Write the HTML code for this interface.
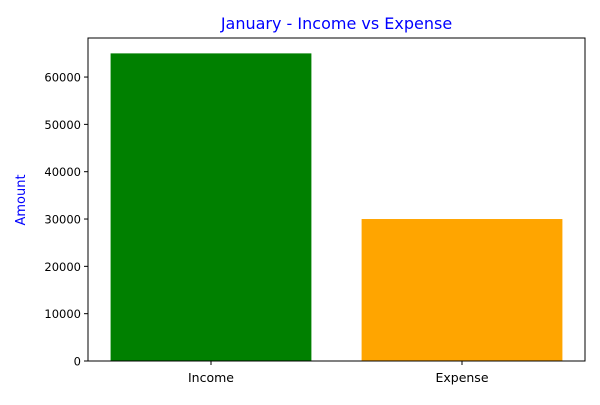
<!DOCTYPE html>
<html><head><meta charset="utf-8"><style>
body{margin:0;background:#fff;}
svg text{font-family:"DejaVu Sans","Liberation Sans",sans-serif;}
</style></head><body>
<svg id="chart" width="600" height="400" xmlns="http://www.w3.org/2000/svg">
<rect width="600" height="400" fill="#fff"/>
<text x="336.5" y="29" font-size="16" fill="#0000ff" text-anchor="middle">January - Income vs Expense</text>
<text transform="translate(25,200) rotate(-90)" font-size="13" fill="#0000ff" text-anchor="middle">Amount</text>
<g id="bars"></g>
<g id="yticks"></g>
<g id="xticks"></g>
<rect x="88" y="38" width="497" height="323" fill="none" stroke="#000" stroke-width="1"/>
</svg>
<script>
const categories = ["Income", "Expense"];
const values = [65000, 30000];
const colors = ["#008000", "#ffa500"];
const yTicks = [0, 10000, 20000, 30000, 40000, 50000, 60000];

const L = 88, R = 585, T = 38, B = 361;
const yMax = Math.max(...values) * 1.05;
const y = v => B - v / yMax * (B - T);
const unit = (R - L) / 1.98;
const x = i => L + (i + 0.49) * unit;
const NS = "http://www.w3.org/2000/svg";
const bars = document.getElementById("bars");
categories.forEach((c, i) => {
  const r = document.createElementNS(NS, "rect");
  r.setAttribute("x", x(i) - 0.4 * unit);
  r.setAttribute("width", 0.8 * unit);
  r.setAttribute("y", y(values[i]));
  r.setAttribute("height", B - y(values[i]));
  r.setAttribute("fill", colors[i]);
  
  
  bars.appendChild(r);
  const t = document.createElementNS(NS, "text");
  t.setAttribute("x", x(i)); t.setAttribute("y", B + 21);
  t.setAttribute("font-size", "12.5"); t.setAttribute("text-anchor", "middle");
  t.textContent = c;
  
  
  document.getElementById("xticks").appendChild(t);
  const tk = document.createElementNS(NS, "line");
  tk.setAttribute("x1", x(i)); tk.setAttribute("x2", x(i));
  tk.setAttribute("y1", B); tk.setAttribute("y2", B + 4);
  tk.setAttribute("stroke", "#000");
  
  
  document.getElementById("xticks").appendChild(tk);
});
const yt = document.getElementById("yticks");
yTicks.forEach(v => {
  const l = document.createElementNS(NS, "line");
  l.setAttribute("x1", L - 4); l.setAttribute("x2", L);
  l.setAttribute("y1", y(v)); l.setAttribute("y2", y(v));
  l.setAttribute("stroke", "#000");
  
  
  yt.appendChild(l);
  const t = document.createElementNS(NS, "text");
  t.setAttribute("x", L - 7); t.setAttribute("y", y(v) + 4.5);
  t.setAttribute("font-size", "11.5"); t.setAttribute("text-anchor", "end");
  t.textContent = v;
  
  
  yt.appendChild(t);
});
</script>
</body></html>
